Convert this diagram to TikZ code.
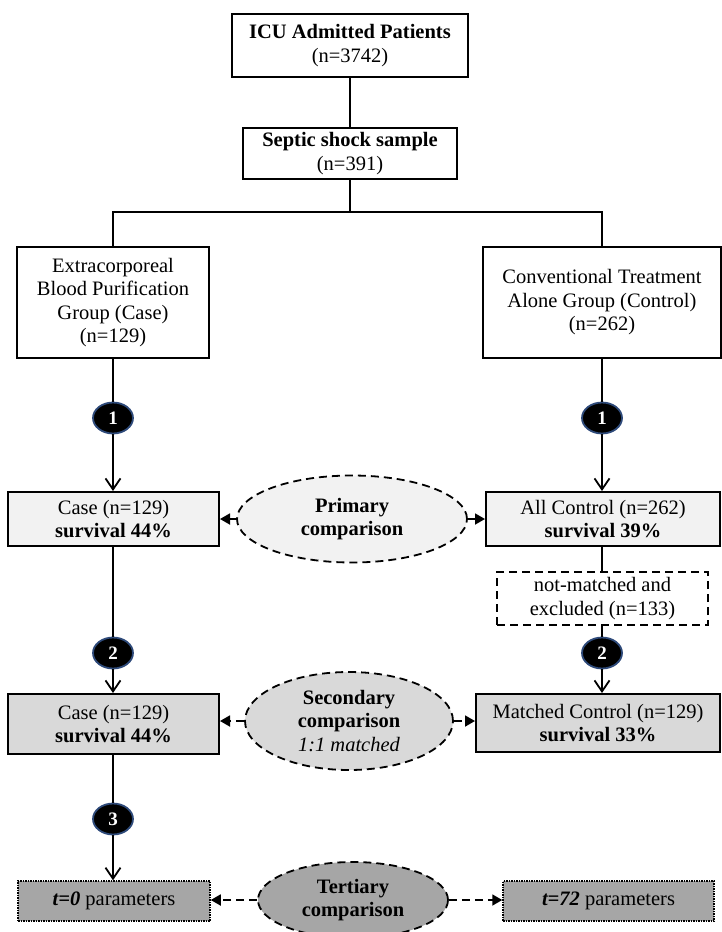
\documentclass[tikz,border=0pt]{standalone}
\usepackage{fontspec}
\setmainfont{Liberation Serif}
\usetikzlibrary{shapes.geometric,arrows.meta}
\definecolor{fillA}{HTML}{F2F2F2}
\definecolor{fillB}{HTML}{D9D9D9}
\definecolor{fillC}{HTML}{A6A6A6}
\definecolor{ringblue}{HTML}{2E4A7A}
\tikzset{
  txt/.style={font=\fontsize{20.5}{23.5}\selectfont, align=center, inner sep=0pt},
  box/.style={txt, draw, line width=2pt, rectangle},
  dbox/.style={txt, draw, line width=1.8pt, rectangle, dash pattern=on 8pt off 5pt},
  tbox/.style={txt, draw, line width=1.5pt, rectangle, densely dotted, fill=fillC},
  cmp/.style={txt, draw, ellipse, line width=1.8pt, dash pattern=on 8pt off 5pt},
  num/.style={ellipse, fill=black, draw=ringblue, line width=1.8pt, minimum width=40pt, minimum height=31pt, inner sep=0pt, text=white, font=\fontsize{19}{19}\selectfont\bfseries},
  conn/.style={line width=1.8pt},
  arr/.style={line width=1.8pt, -{Straight Barb[length=11pt,width=15pt,line width=1.8pt]}},
  darr/.style={line width=1.8pt, dash pattern=on 8pt off 5pt, -{Triangle[length=10pt,width=11pt]}}
}
\begin{document}
\begin{tikzpicture}[x=1pt,y=-1pt]
\useasboundingbox (0,0) rectangle (722,932);
% top boxes
\node[box, minimum width=236pt, minimum height=63pt] (icu) at (350,45.5) {\textbf{ICU Admitted Patients}\\(n=3742)};
\node[box, minimum width=214pt, minimum height=51pt] (septic) at (350,153.5) {\textbf{Septic shock sample}\\(n=391)};
\node[box, minimum width=192pt, minimum height=111pt] (ecbp) at (113,302.5) {Extracorporeal\\Blood Purification\\Group (Case)\\(n=129)};
\node[box, minimum width=238pt, minimum height=111pt] (conv) at (602,302.5) {Conventional Treatment\\Alone Group (Control)\\(n=262)};
% numbered markers
\node[num] (n1L) at (113,418) {1};
\node[num] (n1R) at (602,418) {1};
\node[num] (n2L) at (113,653) {2};
\node[num] (n2R) at (602,653) {2};
\node[num] (n3) at (113,819) {3};
% first comparison row
\node[box, fill=fillA, minimum width=211pt, minimum height=54pt] (c1) at (113.5,519) {Case (n=129)\\\textbf{survival 44\%}};
\node[box, fill=fillA, minimum width=234pt, minimum height=54pt] (ac) at (603,519) {All Control (n=262)\\\textbf{survival 39\%}};
\node[cmp, fill=fillA, minimum width=230pt, minimum height=87pt] (prim) at (352,519) {\textbf{Primary}\\\textbf{comparison}};
\node[dbox, minimum width=211pt, minimum height=53pt] (nm) at (602.5,598.5) {not-matched and\\excluded (n=133)};
% second comparison row
\node[box, fill=fillB, minimum width=211pt, minimum height=60pt] (c2) at (113.5,724) {Case (n=129)\\\textbf{survival 44\%}};
\node[box, fill=fillB, minimum width=244pt, minimum height=58pt] (mc) at (598,723) {Matched Control (n=129)\\\textbf{survival 33\%}};
\node[cmp, fill=fillB, minimum width=208pt, minimum height=98pt] (sec) at (349,721) {\textbf{Secondary}\\\textbf{comparison}\\\textit{1:1 matched}};
% third row
\node[tbox, minimum width=192pt, minimum height=40pt] (t0) at (114,901) {\textbf{\textit{t=0}} parameters};
\node[tbox, minimum width=211pt, minimum height=40pt] (t72) at (608.5,901) {\textbf{\textit{t=72}} parameters};
\node[cmp, fill=fillC, minimum width=190pt, minimum height=76pt] (ter) at (353,900) {\textbf{Tertiary}\\\textbf{comparison}};
% connectors
\coordinate (split) at (350,212);
\draw[conn] (icu.south) -- (septic.north);
\draw[conn] (septic.south) -- (split);
\draw[conn] (split) -| (ecbp.north);
\draw[conn] (split) -| (conv.north);
\draw[conn] (ecbp.south) -- (n1L.north);
\draw[arr] (n1L.south) -- (c1.north -| n1L.south);
\draw[conn] (conv.south) -- (n1R.north);
\draw[arr] (n1R.south) -- (ac.north -| n1R.south);
\draw[conn] (c1.south -| n2L.north) -- (n2L.north);
\draw[arr] (n2L.south) -- (c2.north -| n2L.south);
\draw[conn] (ac.south -| n2R.north) -- (nm.north -| n2R.north);
\draw[conn] (nm.south -| n2R.north) -- (n2R.north);
\draw[arr] (n2R.south) -- (mc.north -| n2R.south);
\draw[conn] (c2.south -| n3.north) -- (n3.north);
\draw[arr] (n3.south) -- (t0.north -| n3.south);
\draw[darr] (prim.west) -- (prim.west -| c1.east);
\draw[darr] (prim.east) -- (prim.east -| ac.west);
\draw[darr] (sec.west) -- (sec.west -| c2.east);
\draw[darr] (sec.east) -- (sec.east -| mc.west);
\draw[darr] (ter.west) -- (ter.west -| t0.east);
\draw[darr] (ter.east) -- (ter.east -| t72.west);
\end{tikzpicture}
\end{document}
